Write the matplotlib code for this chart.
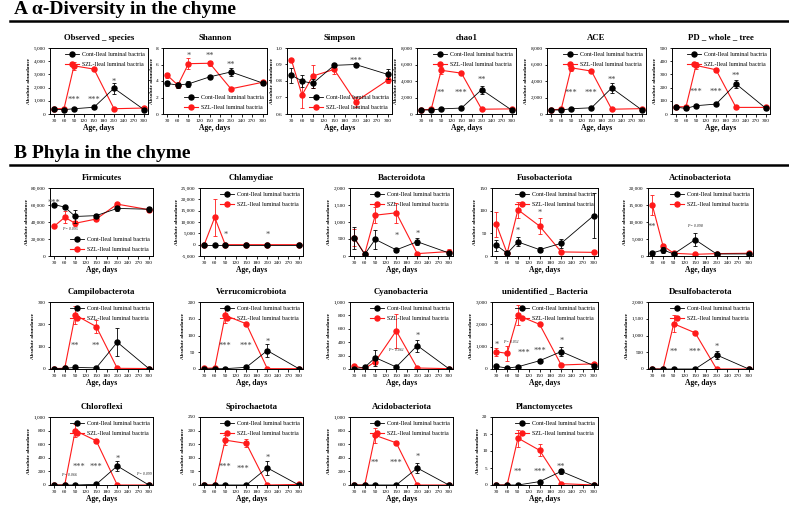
import matplotlib.pyplot as plt
from matplotlib.lines import Line2D
from matplotlib.ticker import FuncFormatter, MultipleLocator

plt.rcParams['font.family'] = ['Liberation Serif', 'DejaVu Serif']

days = [30, 60, 90, 150, 210, 300]
cont_label = 'Cont-Ileal luminal bactria'
szl_label = 'SZL-Ileal luminal bactria'
RED = '#ff1a1a'

# ---- A: alpha diversity
obs_cont = [350, 330, 400, 510, 1950, 330]
obs_cont_err = [60, 50, 60, 60, 400, 100]
obs_szl = [400, 400, 3650, 3400, 400, 450]
obs_szl_err = [40, 40, 320, 100, 40, 60]

shan_cont = [3.7, 3.5, 3.65, 4.5, 5.1, 3.75]
shan_cont_err = [0.3, 0.3, 0.35, 0.1, 0.5, 0.25]
shan_szl = [4.7, 3.5, 6.1, 6.15, 3.05, 3.85]
shan_szl_err = [0.3, 0.4, 0.7, 0.3, 0.1, 0.3]

simp_cont = [0.835, 0.80, 0.785, 0.895, 0.90, 0.84]
simp_cont_err = [0.045, 0.035, 0.03, 0.01, 0.01, 0.03]
simp_szl = [0.93, 0.715, 0.83, 0.87, 0.675, 0.805]
simp_szl_err = [0.005, 0.08, 0.07, 0.03, 0.03, 0.02]

chao_cont = [500, 480, 620, 720, 2950, 450]
chao_cont_err = [60, 60, 60, 60, 500, 100]
chao_szl = [520, 550, 5300, 4950, 580, 620]
chao_szl_err = [40, 40, 400, 150, 40, 60]

ace_cont = [500, 480, 640, 750, 3150, 480]
ace_cont_err = [60, 60, 60, 60, 550, 100]
ace_szl = [520, 560, 5600, 5200, 580, 650]
ace_szl_err = [40, 40, 400, 100, 40, 60]

pd_cont = [52, 42, 63, 75, 228, 42]
pd_cont_err = [5, 10, 5, 5, 30, 12]
pd_szl = [55, 55, 368, 335, 50, 50]
pd_szl_err = [5, 5, 25, 15, 5, 5]

# ---- B: phyla
firm_cont = [60500, 57500, 46500, 47500, 56000, 55000]
firm_cont_err = [1000, 1000, 7500, 2500, 3000, 3000]
firm_szl = [35000, 45500, 38500, 43500, 61000, 54500]
firm_szl_err = [1000, 7000, 3000, 1000, 1000, 2000]

chla_cont = [0, 0, 0, 0, 0, 0]
chla_cont_err = [0, 0, 0, 0, 0, 0]
chla_szl = [0, 12000, 0, 0, 0, 0]
chla_szl_err = [0, 8000, 0, 0, 0, 0]

bact_cont = [530, 50, 490, 180, 420, 90]
bact_cont_err = [320, 20, 280, 50, 100, 30]
bact_szl = [540, 60, 1200, 1270, 70, 130]
bact_szl_err = [250, 20, 230, 300, 20, 80]

fuso_cont = [24, 6, 31, 14, 28, 89]
fuso_cont_err = [12, 2, 10, 5, 10, 50]
fuso_szl = [70, 6, 102, 66, 9, 8]
fuso_szl_err = [27, 2, 18, 17, 2, 2]

acti_cont = [900, 1800, 600, 4800, 600, 600]
acti_cont_err = [300, 800, 200, 2000, 200, 200]
acti_szl = [15000, 3000, 800, 500, 700, 800]
acti_szl_err = [2800, 400, 200, 100, 100, 100]

camp_cont = [2, 3, 7, 5, 120, 2]
camp_cont_err = [1, 1, 3, 2, 62, 1]
camp_szl = [2, 3, 242, 190, 3, 2]
camp_szl_err = [1, 1, 40, 30, 1, 1]

verr_cont = [0, 1, 1, 5, 55, 1]
verr_cont_err = [0, 0, 0, 1, 20, 0]
verr_szl = [2, 3, 160, 135, 1, 1]
verr_szl_err = [0, 0, 23, 3, 0, 0]

cyan_cont = [5, 25, 170, 30, 350, 5]
cyan_cont_err = [3, 5, 120, 5, 90, 2]
cyan_szl = [45, 5, 110, 570, 15, 5]
cyan_szl_err = [5, 2, 40, 250, 3, 2]

unid_cont = [120, 40, 100, 370, 780, 150]
unid_cont_err = [80, 20, 30, 70, 200, 40]
unid_szl = [770, 700, 2400, 2000, 180, 230]
unid_szl_err = [180, 330, 450, 40, 20, 40]

desu_cont = [0, 0, 0, 0, 420, 0]
desu_cont_err = [0, 0, 0, 0, 120, 0]
desu_szl = [0, 0, 1350, 1080, 0, 0]
desu_szl_err = [0, 0, 250, 40, 0, 0]

chlo_cont = [0, 0, 0, 10, 280, 0]
chlo_cont_err = [0, 0, 0, 3, 75, 0]
chlo_szl = [0, 0, 800, 650, 0, 0]
chlo_szl_err = [0, 0, 100, 25, 0, 0]

spir_cont = [0, 0, 0, 0, 63, 0]
spir_cont_err = [0, 0, 0, 0, 25, 0]
spir_szl = [0, 0, 165, 153, 0, 2]
spir_szl_err = [0, 0, 18, 15, 0, 0]

acid_cont = [0, 0, 0, 0, 250, 0]
acid_cont_err = [0, 0, 0, 0, 70, 0]
acid_szl = [0, 0, 730, 620, 0, 0]
acid_szl_err = [0, 0, 110, 20, 0, 0]

plan_cont = [0, 0, 0, 1, 4, 0]
plan_cont_err = [0, 0, 0, 0.5, 0.8, 0]
plan_szl = [0, 0, 13.8, 10.2, 0.4, 0]
plan_szl_err = [0, 0, 2.5, 1.8, 0.1, 0]

W, H = 789, 505


def rect(l, t, r, b):
    return [l / W, 1 - b / H, (r - l) / W, (b - t) / H]


comma = FuncFormatter(lambda v, p: f'{v:,.0f}')
onedec = FuncFormatter(lambda v, p: f'{v:.1f}')

colsA = [(50, 148), (163, 267), (287, 392), (417, 516), (547, 646), (672, 770)]
colsB = [(50, 153), (200, 303), (350, 453), (492, 598), (648, 753)]
rowsB = [(188, 256), (302, 369), (417, 485)]

panels = [
    # title, rect, ylim, step, fmt, cont, cerr, szl, serr, marks, legend loc
    ('Observed _ species', rect(colsA[0][0], 48, colsA[0][1], 114), (0, 5000), 1000, comma,
     obs_cont, obs_cont_err, obs_szl, obs_szl_err,
     [(90, 1100, '***'), (150, 1100, '***'), (210, 2400, '*')], 'upper right'),
    ('Shannon', rect(colsA[1][0], 48, colsA[1][1], 114), (0, 8), 2, comma,
     shan_cont, shan_cont_err, shan_szl, shan_szl_err,
     [(90, 7.0, '*'), (150, 7.0, '**'), (210, 5.9, '**')], 'lower right'),
    ('Simpson', rect(colsA[2][0], 48, colsA[2][1], 114), (0.6, 1.0), 0.1, onedec,
     simp_cont, simp_cont_err, simp_szl, simp_szl_err,
     [(210, 0.92, '***')], 'lower right'),
    ('chao1', rect(colsA[3][0], 48, colsA[3][1], 114), (0, 8000), 2000, comma,
     chao_cont, chao_cont_err, chao_szl, chao_szl_err,
     [(90, 2600, '**'), (150, 2600, '***'), (210, 4100, '**')], 'upper right'),
    ('ACE', rect(colsA[4][0], 48, colsA[4][1], 114), (0, 8000), 2000, comma,
     ace_cont, ace_cont_err, ace_szl, ace_szl_err,
     [(90, 2600, '***'), (150, 2600, '***'), (210, 4100, '**')], 'upper right'),
    ('PD _ whole _ tree', rect(colsA[5][0], 48, colsA[5][1], 114), (0, 500), 100, comma,
     pd_cont, pd_cont_err, pd_szl, pd_szl_err,
     [(90, 165, '***'), (150, 165, '***'), (210, 290, '**')], 'upper right'),

    ('Firmicutes', rect(colsB[0][0], rowsB[0][0], colsB[0][1], rowsB[0][1]), (0, 80000), 20000, comma,
     firm_cont, firm_cont_err, firm_szl, firm_szl_err,
     [(30, 63000, '***'), (75, 29000, 'P = 0.095')], 'lower right'),
    ('Chlamydiae', rect(colsB[1][0], rowsB[0][0], colsB[1][1], rowsB[0][1]), (-5000, 25000), 5000, comma,
     chla_cont, chla_cont_err, chla_szl, chla_szl_err,
     [(90, 4500, '*'), (210, 4500, '*')], 'upper right'),
    ('Bacteroidota', rect(colsB[2][0], rowsB[0][0], colsB[2][1], rowsB[0][1]), (0, 2000), 500, comma,
     bact_cont, bact_cont_err, bact_szl, bact_szl_err,
     [(150, 580, '*'), (210, 650, '*')], 'upper right'),
    ('Fusobacteriota', rect(colsB[3][0], rowsB[0][0], colsB[3][1], rowsB[0][1]), (0, 150), 50, comma,
     fuso_cont, fuso_cont_err, fuso_szl, fuso_szl_err,
     [(90, 56, '*'), (150, 96, '*')], 'upper right'),
    ('Actinobacteriota', rect(colsB[4][0], rowsB[0][0], colsB[4][1], rowsB[0][1]), (0, 20000), 5000, comma,
     acti_cont, acti_cont_err, acti_szl, acti_szl_err,
     [(30, 8500, '**'), (150, 8300, 'P = 0.098')], 'upper right'),

    ('Campilobacterota', rect(colsB[0][0], rowsB[1][0], colsB[0][1], rowsB[1][1]), (0, 300), 100, comma,
     camp_cont, camp_cont_err, camp_szl, camp_szl_err,
     [(90, 105, '**'), (150, 105, '**')], 'upper right'),
    ('Verrucomicrobiota', rect(colsB[1][0], rowsB[1][0], colsB[1][1], rowsB[1][1]), (0, 200), 50, comma,
     verr_cont, verr_cont_err, verr_szl, verr_szl_err,
     [(90, 70, '***'), (150, 70, '***'), (210, 82, '*')], 'upper right'),
    ('Cyanobacteria', rect(colsB[2][0], rowsB[1][0], colsB[2][1], rowsB[1][1]), (0, 1000), 200, comma,
     cyan_cont, cyan_cont_err, cyan_szl, cyan_szl_err,
     [(210, 490, '*'), (150, 260, 'P = 0.061')], 'upper right'),
    ('unidentified _ Bacteria', rect(colsB[3][0], rowsB[1][0], colsB[3][1], rowsB[1][1]), (0, 3000), 1000, comma,
     unid_cont, unid_cont_err, unid_szl, unid_szl_err,
     [(30, 1080, '*'), (70, 1120, 'P = 0.051'), (108, 700, '***'), (150, 830, '***'),
      (210, 1250, '*')], 'upper right'),
    ('Desulfobacterota', rect(colsB[4][0], rowsB[1][0], colsB[4][1], rowsB[1][1]), (0, 2000), 500, comma,
     desu_cont, desu_cont_err, desu_szl, desu_szl_err,
     [(90, 520, '**'), (150, 520, '***'), (210, 650, '*')], 'upper right'),

    ('Chloroflexi', rect(colsB[0][0], rowsB[2][0], colsB[0][1], rowsB[2][1]), (0, 1000), 200, comma,
     chlo_cont, chlo_cont_err, chlo_szl, chlo_szl_err,
     [(100, 260, '***'), (150, 260, '***'), (210, 390, '*'), (72, 120, 'P = 0.066'),
      (287, 130, 'P = 0.099')], 'upper right'),
    ('Spirochaetota', rect(colsB[1][0], rowsB[2][0], colsB[1][1], rowsB[2][1]), (0, 250), 50, comma,
     spir_cont, spir_cont_err, spir_szl, spir_szl_err,
     [(90, 65, '***'), (140, 58, '***'), (210, 100, '*')], 'upper right'),
    ('Acidobacteriota', rect(colsB[2][0], rowsB[2][0], colsB[2][1], rowsB[2][1]), (0, 1000), 200, comma,
     acid_cont, acid_cont_err, acid_szl, acid_szl_err,
     [(90, 320, '**'), (150, 320, '***'), (210, 410, '*')], 'upper right'),
    ('Planctomycetes', rect(colsB[3][0], rowsB[2][0], colsB[3][1], rowsB[2][1]), (0, 20), 5, comma,
     plan_cont, plan_cont_err, plan_szl, plan_szl_err,
     [(90, 3.8, '**'), (150, 3.8, '***'), (210, 5.3, '**')], 'upper right'),
]

fig = plt.figure(figsize=(7.89, 5.05), dpi=100)

for (title, pos, ylim, step, fmt, cont, cerr, szl, serr, marks, loc) in panels:
    ax = fig.add_axes(pos)
    ax.errorbar(days, szl, yerr=serr, color=RED, marker='o', ms=3.6, lw=0.8,
                elinewidth=0.6, capsize=1.6, capthick=0.6, zorder=2)
    ax.errorbar(days, cont, yerr=cerr, color='black', marker='o', ms=3.6, lw=0.6,
                elinewidth=0.6, capsize=1.6, capthick=0.6, zorder=3)
    for x, y, t in marks:
        if t.startswith('P'):
            ax.text(x, y, t, fontsize=2.8, style='italic', ha='center', va='bottom', color='#222')
        else:
            ax.text(x, y, t, fontsize=6, ha='center', va='center', color='#444')
    ax.set_xlim(18, 312)
    ax.set_ylim(*ylim)
    ax.xaxis.set_major_locator(MultipleLocator(30))
    ax.yaxis.set_major_locator(MultipleLocator(step))
    ax.yaxis.set_major_formatter(fmt)
    ax.tick_params(labelsize=3.8, length=1.8, width=0.6, pad=1.5)
    for s in ax.spines.values():
        s.set_linewidth(0.7)
    ax.set_title(title, fontsize=6.3, fontweight='bold', pad=6)
    ax.set_xlabel('Age, days', fontsize=5.5, fontweight='bold', labelpad=1)
    ax.set_ylabel('Absolute abundance', fontsize=3.8, fontweight='bold', labelpad=1.5)
    handles = [Line2D([], [], color='black', marker='o', ms=3.6, lw=0.6),
               Line2D([], [], color=RED, marker='o', ms=3.6, lw=0.8)]
    ax.legend(handles, [cont_label, szl_label], loc=loc, fontsize=4.3, frameon=False,
              handlelength=2.2, handletextpad=0.5, borderaxespad=0.2, labelspacing=0.9)

fig.text(14 / W, 1 - 10 / H, 'A α-Diversity in the chyme', fontsize=14,
         fontweight='bold', va='center')
fig.text(14 / W, 1 - 153 / H, 'B Phyla in the chyme', fontsize=14,
         fontweight='bold', va='center')
fig.add_artist(Line2D([10 / W, 1], [1 - 21 / H, 1 - 21 / H], color='black', lw=1.8))
fig.add_artist(Line2D([10 / W, 1], [1 - 165 / H, 1 - 165 / H], color='black', lw=1.8))

fig.savefig('out.png', dpi=100)
